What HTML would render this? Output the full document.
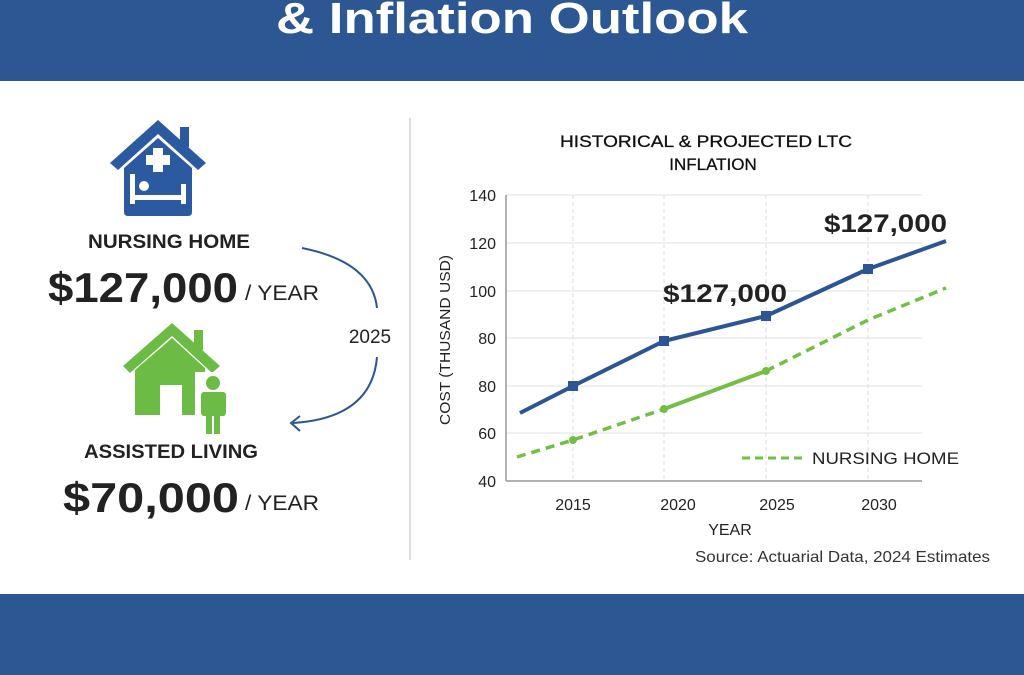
<!DOCTYPE html>
<html><head><meta charset="utf-8"><style>
html,body{margin:0;padding:0;background:#fff;}
svg{display:block;font-family:"Liberation Sans",sans-serif;}
</style></head><body>
<svg width="1024" height="675" viewBox="0 0 1024 675">
<rect width="1024" height="675" fill="#ffffff"/>
<rect x="0" y="0" width="1024" height="81" fill="#2c5793"/>
<text x="276" y="33" font-size="44" font-weight="bold" fill="#fff" textLength="472" lengthAdjust="spacingAndGlyphs">&amp; Inflation Outlook</text>
<rect x="0" y="594" width="1024" height="81" fill="#2c5793"/>
<line x1="410" y1="118" x2="410" y2="560" stroke="#ddd" stroke-width="2"/>

<g fill="#2c5aa0">
<path d="M158 120 L110 163 L118 170 L158 134 L198 170 L206 163 Z"/>
<rect x="180" y="127" width="9" height="20"/>
<path d="M124 168 L158 138 L192 168 L192 212 Q192 216 188 216 L128 216 Q124 216 124 212 Z"/>
</g>
<g fill="#fff">
<rect x="153" y="148" width="10" height="24"/>
<rect x="146" y="155" width="24" height="10"/>
<rect x="130" y="174" width="5" height="30"/>
<rect x="181" y="184" width="5" height="20"/>
<rect x="130" y="195" width="56" height="5"/>
<circle cx="144" cy="186" r="5"/>
</g>
<text x="169" y="248" font-size="19" font-weight="bold" fill="#222" text-anchor="middle" textLength="162" lengthAdjust="spacingAndGlyphs">NURSING HOME</text>
<text x="48" y="302" font-size="42" font-weight="bold" fill="#222" textLength="190" lengthAdjust="spacingAndGlyphs">$127,000</text>
<text x="245" y="300" font-size="21" fill="#222" textLength="74" lengthAdjust="spacingAndGlyphs">/ YEAR</text>

<g fill="#6cbb45">
<path d="M172 323 L123 366 L130 373 L172 336 L212 373 L220 366 Z"/>
<rect x="194" y="330" width="9" height="20"/>
<path d="M135 370 L172 338 L205 368 L205 415 L135 415 Z"/>
</g>
<rect x="160" y="385" width="22" height="30" fill="#fff"/>
<rect x="195" y="372" width="36" height="62" fill="#fff"/>
<g fill="#6cbb45">
<circle cx="213" cy="383" r="7"/>
<rect x="201" y="392" width="25" height="24" rx="3"/>
<rect x="206" y="408" width="6" height="26"/>
<rect x="214" y="408" width="6" height="26"/>
</g>
<text x="171" y="458" font-size="19" font-weight="bold" fill="#222" text-anchor="middle" textLength="174" lengthAdjust="spacingAndGlyphs">ASSISTED LIVING</text>
<text x="63" y="512" font-size="42" font-weight="bold" fill="#222" textLength="176" lengthAdjust="spacingAndGlyphs">$70,000</text>
<text x="245" y="510" font-size="21" fill="#222" textLength="74" lengthAdjust="spacingAndGlyphs">/ YEAR</text>

<path d="M302 248 Q372 262 377 308" fill="none" stroke="#2c5593" stroke-width="2"/>
<text x="370" y="343" font-size="19" fill="#222" text-anchor="middle">2025</text>
<path d="M377 357 Q372 418 293 423" fill="none" stroke="#2c5593" stroke-width="2"/>
<path d="M300 416 L291 423 L300 431" fill="none" stroke="#2c5593" stroke-width="2"/>

<text x="706" y="147" font-size="17" fill="#111" stroke="#111" stroke-width="0.3" text-anchor="middle" textLength="292" lengthAdjust="spacingAndGlyphs">HISTORICAL &amp; PROJECTED LTC</text>
<text x="713" y="170" font-size="17" fill="#111" stroke="#111" stroke-width="0.3" text-anchor="middle">INFLATION</text>
<g stroke="#e2e2e2" stroke-width="1">
<line x1="506" y1="195" x2="922" y2="195"/>
<line x1="506" y1="243" x2="922" y2="243"/>
<line x1="506" y1="291" x2="922" y2="291"/>
<line x1="506" y1="338" x2="922" y2="338"/>
<line x1="506" y1="386" x2="922" y2="386"/>
<line x1="506" y1="433" x2="922" y2="433"/>
</g>
<g stroke="#ddd" stroke-width="1" stroke-dasharray="4,3">
<line x1="573" y1="195" x2="573" y2="481"/>
<line x1="664" y1="195" x2="664" y2="481"/>
<line x1="766" y1="195" x2="766" y2="481"/>
<line x1="868" y1="195" x2="868" y2="481"/>
</g>
<line x1="506" y1="195" x2="506" y2="481" stroke="#999" stroke-width="1.5"/>
<line x1="506" y1="481" x2="922" y2="481" stroke="#999" stroke-width="1.5"/>
<g font-size="16" fill="#222" text-anchor="end">
<text x="496" y="201">140</text>
<text x="496" y="249">120</text>
<text x="496" y="297">100</text>
<text x="496" y="344">80</text>
<text x="496" y="392">80</text>
<text x="496" y="439">60</text>
<text x="496" y="487">40</text>
</g>
<g font-size="16" fill="#222" text-anchor="middle">
<text x="573" y="510">2015</text>
<text x="678" y="510">2020</text>
<text x="777" y="510">2025</text>
<text x="879" y="510">2030</text>
<text x="730" y="535">YEAR</text>
</g>
<text transform="translate(450,340) rotate(-90)" font-size="15" fill="#222" text-anchor="middle" textLength="170" lengthAdjust="spacingAndGlyphs">COST (THUSAND USD)</text>
<text x="990" y="562" font-size="16" fill="#333" text-anchor="end" textLength="295" lengthAdjust="spacingAndGlyphs">Source: Actuarial Data, 2024 Estimates</text>

<polyline points="520,413 573,386 664,341 766,316 868,269 946,241" fill="none" stroke="#2c5593" stroke-width="4" stroke-linejoin="round"/>
<g fill="#2c5593"><rect x="568" y="381" width="10" height="10"/><rect x="659" y="336" width="10" height="10"/><rect x="761" y="311" width="10" height="10"/><rect x="863" y="264" width="10" height="10"/></g>
<polyline points="517,457 573,440 664,409" fill="none" stroke="#72bf44" stroke-width="3.5" stroke-dasharray="9,6"/>
<polyline points="664,409 766,371" fill="none" stroke="#72bf44" stroke-width="4"/>
<polyline points="766,371 868,320 946,288" fill="none" stroke="#72bf44" stroke-width="3.5" stroke-dasharray="9,6"/>
<g fill="#72bf44"><circle cx="573" cy="440" r="4"/><circle cx="664" cy="409" r="4"/><circle cx="766" cy="371" r="4"/></g>
<text x="663" y="302" font-size="25" font-weight="bold" fill="#222" textLength="124" lengthAdjust="spacingAndGlyphs">$127,000</text>
<text x="824" y="232" font-size="25" font-weight="bold" fill="#222" textLength="123" lengthAdjust="spacingAndGlyphs">$127,000</text>
<line x1="742" y1="458" x2="802" y2="458" stroke="#72bf44" stroke-width="3" stroke-dasharray="8,5"/>
<text x="812" y="464" font-size="17" fill="#222" textLength="147" lengthAdjust="spacingAndGlyphs">NURSING HOME</text>
</svg>
</body></html>
